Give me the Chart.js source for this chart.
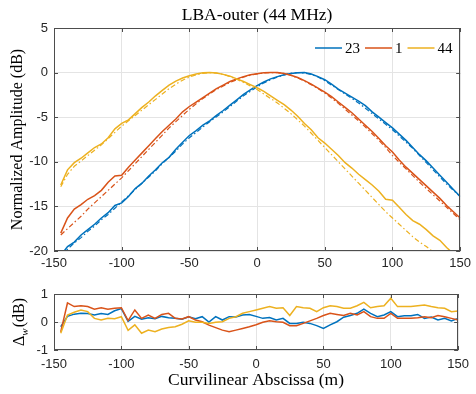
<!DOCTYPE html>
<html>
<head>
<meta charset="utf-8">
<script src="https://cdn.jsdelivr.net/npm/chart.js@4.4.1/dist/chart.umd.min.js"></script>
<style>
  html, body { margin: 0; padding: 0; background: #fff; }
  #wrap { position: relative; width: 476px; height: 394px; }
  #topWrap { position: absolute; left: 0; top: 0; width: 476px; height: 272px; }
  #botWrap { position: absolute; left: 0; top: 272px; width: 476px; height: 122px; }
</style>
</head>
<body>
<div id="wrap">
  <div id="topWrap"><canvas id="ampChart"></canvas></div>
  <div id="botWrap"><canvas id="diffChart"></canvas></div>
</div>
<script>
// Abscisse curviligne (m)
const positions = [-145, -140, -135, -130, -125, -120, -115, -110, -105, -100,
  -95, -90, -85, -80, -75, -70, -65, -60, -55, -50,
  -45, -40, -35, -30, -25, -20, -15, -10, -5, 0,
  5, 10, 15, 20, 25, 30, 35, 40, 45, 50,
  55, 60, 65, 70, 75, 80, 85, 90, 95, 100,
  105, 110, 115, 120, 125, 130, 135, 140, 145, 150];

const seriesNames = ['23', '1', '44'];

// Amplitude mesurée (dB) - traits pleins
const meas23 = [-20.5, -19.5, -19.0, -18.2, -17.6, -17.0, -16.3, -15.7, -14.9, -14.6,
  -13.9, -13.0, -12.4, -11.6, -10.9, -10.1, -9.5, -8.6, -7.8, -7.05,
  -6.5, -5.9, -5.4, -4.8, -4.25, -3.65, -3.05, -2.45, -1.95, -1.45,
  -1.05, -0.7, -0.45, -0.25, -0.1, -0.02, 0, -0.15, -0.45, -0.8,
  -1.3, -1.85, -2.3, -2.75, -3.2, -3.7, -4.4, -5.0, -5.6, -6.2,
  -6.9, -7.6, -8.4, -9.2, -9.9, -10.7, -11.5, -12.3, -13.1, -13.9];
const meas1 = [-18.0, -16.3, -15.3, -14.8, -14.2, -13.8, -13.2, -12.3, -11.6, -11.5,
  -10.6, -9.8, -9.0, -8.2, -7.4, -6.6, -5.9, -5.2, -4.4, -3.8,
  -3.3, -2.8, -2.3, -1.8, -1.4, -1.0, -0.7, -0.45, -0.25, -0.12,
  -0.03, 0, 0, -0.1, -0.3, -0.55, -0.9, -1.3, -1.75, -2.2,
  -2.7, -3.3, -3.9, -4.5, -5.2, -5.9, -6.6, -7.4, -8.2, -8.9,
  -9.8, -10.6, -11.3, -12.0, -12.7, -13.4, -14.1, -14.9, -15.6, -16.3];
const meas44 = [-12.6, -10.9, -10.1, -9.6, -9.0, -8.4, -8.0, -7.3, -6.3, -5.7,
  -5.3, -4.6, -3.9, -3.3, -2.6, -2.0, -1.4, -0.95, -0.6, -0.35,
  -0.15, -0.03, 0, -0.05, -0.2, -0.4, -0.7, -1.0, -1.35, -1.7,
  -2.1, -2.6, -3.1, -3.6, -4.2, -4.9, -5.7, -6.4, -7.3, -7.9,
  -8.6, -9.3, -10.1, -10.7, -11.4, -12.0, -12.6, -13.3, -14.2, -14.3,
  -15.1, -15.9, -16.6, -17.0, -17.6, -18.3, -18.8, -19.6, -20.3, -21.0];

// Modèle (dB) - traits mixtes
const model23 = [-20.4, -19.8, -19.1, -18.5, -17.8, -17.2, -16.5, -15.9, -15.2, -14.5,
  -13.8, -13.1, -12.4, -11.7, -11.0, -10.2, -9.5, -8.8, -8.0, -7.3,
  -6.7, -6.1, -5.5, -4.95, -4.4, -3.8, -3.2, -2.6, -2.1, -1.6,
  -1.15, -0.8, -0.5, -0.25, -0.08, 0, -0.05, -0.2, -0.5, -0.9,
  -1.4, -1.9, -2.4, -2.9, -3.4, -4.0, -4.6, -5.2, -5.8, -6.4,
  -7.1, -7.8, -8.5, -9.3, -10.1, -10.9, -11.7, -12.5, -13.2, -13.9];
const model1 = [-18.2, -17.5, -16.8, -16.1, -15.3, -14.6, -13.9, -13.2, -12.5, -11.8,
  -11.0, -10.2, -9.4, -8.6, -7.8, -7.0, -6.2, -5.5, -4.8, -4.1,
  -3.5, -2.9, -2.4, -1.9, -1.5, -1.1, -0.8, -0.5, -0.3, -0.15,
  -0.05, 0, 0, -0.1, -0.3, -0.6, -0.95, -1.35, -1.8, -2.3,
  -2.85, -3.45, -4.1, -4.75, -5.4, -6.1, -6.85, -7.6, -8.4, -9.3,
  -10.05, -10.8, -11.55, -12.3, -13.0, -13.7, -14.4, -15.1, -15.8, -16.5];
const model44 = [-12.8, -11.4, -10.5, -9.9, -9.3, -8.7, -8.1, -7.4, -6.7, -6.0,
  -5.4, -4.8, -4.2, -3.6, -3.0, -2.4, -1.8, -1.3, -0.85, -0.5,
  -0.25, -0.08, 0, -0.05, -0.2, -0.45, -0.75, -1.1, -1.5, -1.9,
  -2.4, -2.9, -3.4, -4.0, -4.6, -5.3, -6.0, -6.8, -7.6, -8.4,
  -9.2, -10.0, -10.8, -11.6, -12.4, -13.2, -14.0, -14.8, -15.6, -16.3,
  -17.0, -17.7, -18.4, -19.0, -19.5, -20.1, -20.7, -21.3, -21.9, -22.5];

// Écart pondéré Delta_w (dB)
const delta23 = [-0.17, 0.2, 0.28, 0.31, 0.3, 0.25, 0.3, 0.27, 0.4, 0.48,
  0.02, 0.2, 0.1, 0.15, 0.12, 0.2, 0.15, 0.13, 0.1, 0.19,
  0.12, 0.19, 0.0, 0.19, 0.07, 0.19, 0.18, 0.25, 0.27, 0.2,
  0.13, 0.16, 0.07, 0.13, -0.05, -0.05, -0.01, -0.05, -0.13, -0.23,
  -0.1, 0.01, 0.17, 0.23, 0.31, 0.46, 0.31, 0.19, 0.25, 0.37,
  0.19, 0.22, 0.22, 0.27, 0.13, 0.18, 0.07, 0.13, 0.04, 0.13];
const delta1 = [-0.35, 0.68, 0.55, 0.58, 0.55, 0.46, 0.51, 0.46, 0.49, 0.51,
  0.05, 0.43, 0.13, 0.25, 0.13, 0.27, 0.31, 0.13, 0.11, 0.19,
  0.07, 0.01, -0.11, -0.2, -0.29, -0.35, -0.29, -0.23, -0.17, -0.1,
  -0.01, 0.04, 0.01, -0.01, -0.13, -0.13, -0.05, 0.04, 0.13, 0.23,
  0.31, 0.27, 0.23, 0.31, 0.25, 0.37, 0.19, 0.13, 0.13, 0.31,
  0.13, 0.13, 0.13, 0.15, 0.19, 0.15, 0.23, 0.19, 0.13, 0.07];
const delta44 = [-0.4, 0.25, 0.35, 0.43, 0.37, 0.13, 0.07, 0.13, 0.12, 0.19,
  -0.3, -0.1, -0.4, -0.29, -0.35, -0.25, -0.2, -0.17, -0.08, 0.04,
  -0.01, -0.01, -0.05, -0.01, 0.01, 0.13, 0.19, 0.31, 0.37, 0.43,
  0.49, 0.55, 0.49, 0.51, 0.23, 0.55, 0.51, 0.49, 0.37, 0.51,
  0.58, 0.55, 0.49, 0.49, 0.58, 0.7, 0.51, 0.55, 0.58, 0.85,
  0.55, 0.55, 0.55, 0.58, 0.61, 0.55, 0.51, 0.49, 0.37, 0.39];

const xTicks = [-150, -100, -50, 0, 50, 100, 150];
const ampTicks = [-20, -15, -10, -5, 0, 5];
const deltaTicks = [-1, 0, 1];

const colors = ['#0072BD', '#D95319', '#EDB120'];
const tickFont = { family: "'Liberation Sans', Arial, sans-serif", size: 13 };
const serif = "'Liberation Serif', 'DejaVu Serif', serif";

function toPoints(values) {
    return positions.map((x, i) => ({ x: x, y: values[i] }));
}

// Cadre + graduations vers l'intérieur (style MATLAB)
const boxPlugin = {
    id: 'box',
    afterDatasetsDraw(chart) {
        const ctx = chart.ctx;
        const a = chart.chartArea;
        ctx.save();
        ctx.strokeStyle = '#4d4d4d';
        ctx.lineWidth = 1;
        ctx.strokeRect(Math.round(a.left) + 0.5, Math.round(a.top) + 0.5,
            Math.round(a.right - a.left) - 1, Math.round(a.bottom - a.top) - 1);
        ctx.beginPath();
        chart.scales.x.ticks.forEach(t => {
            const px = Math.round(chart.scales.x.getPixelForValue(t.value)) + 0.5;
            ctx.moveTo(px, a.bottom); ctx.lineTo(px, a.bottom - 4);
            ctx.moveTo(px, a.top); ctx.lineTo(px, a.top + 4);
        });
        chart.scales.y.ticks.forEach(t => {
            const py = Math.round(chart.scales.y.getPixelForValue(t.value)) + 0.5;
            ctx.moveTo(a.left, py); ctx.lineTo(a.left + 4, py);
            ctx.moveTo(a.right, py); ctx.lineTo(a.right - 4, py);
        });
        ctx.stroke();
        ctx.restore();
    }
};

// Titre centré sur la zone du graphique + légende interne
const titleLegendPlugin = {
    id: 'titleLegend',
    afterDraw(chart) {
        const ctx = chart.ctx;
        const a = chart.chartArea;
        ctx.save();
        ctx.fillStyle = '#000';
        ctx.font = '17.5px ' + serif;
        ctx.textAlign = 'center';
        ctx.textBaseline = 'middle';
        ctx.fillText('LBA-outer (44 MHz)', (a.left + a.right) / 2, 15);

        // légende
        ctx.font = '15px ' + serif;
        ctx.textAlign = 'left';
        let x = 315;
        const y = 48;
        seriesNames.forEach((name, i) => {
            ctx.strokeStyle = colors[i];
            ctx.lineWidth = 1.5;
            ctx.beginPath();
            ctx.moveTo(x, y); ctx.lineTo(x + 27, y);
            ctx.stroke();
            x += 30;
            ctx.fillStyle = '#000';
            ctx.fillText(name, x, y + 1);
            x += ctx.measureText(name).width + 5;
        });
        ctx.restore();
    }
};

// Libellé vertical "Δw (dB)" avec indice
const deltaLabelPlugin = {
    id: 'deltaLabel',
    afterDraw(chart) {
        const ctx = chart.ctx;
        const a = chart.chartArea;
        ctx.save();
        ctx.translate(20, (a.top + a.bottom) / 2);
        ctx.rotate(-Math.PI / 2);
        ctx.fillStyle = '#000';
        ctx.textBaseline = 'middle';
        const big = '16px ' + serif;
        const small = 'italic 11px ' + serif;
        ctx.font = big; const w1 = ctx.measureText('Δ').width;
        ctx.font = small; const w2 = ctx.measureText('w').width;
        ctx.font = big; const w3 = ctx.measureText('(dB)').width;
        let x = -(w1 + w2 + w3 + 1) / 2;
        ctx.font = big; ctx.fillText('Δ', x, 0); x += w1;
        ctx.font = small; ctx.fillText('w', x, 5); x += w2 + 1;
        ctx.font = big; ctx.fillText('(dB)', x, 0);
        ctx.restore();
    }
};

function gridOpts() {
    return { color: '#e4e4e4', drawTicks: false, lineWidth: 1 };
}

// Graphique du haut
const ampDatasets = [];
[meas23, meas1, meas44].forEach((vals, i) => {
    ampDatasets.push({
        label: seriesNames[i],
        data: toPoints(vals),
        borderColor: colors[i],
        borderWidth: 1.5,
        pointRadius: 0,
        tension: 0,
        order: 6 - 2 * i
    });
});
[model23, model1, model44].forEach((vals, i) => {
    ampDatasets.push({
        label: seriesNames[i] + ' modèle',
        data: toPoints(vals),
        borderColor: colors[i],
        borderWidth: 1.2,
        borderDash: [5, 2.5, 1.5, 2.5],
        pointRadius: 0,
        tension: 0,
        order: 5 - 2 * i
    });
});

new Chart(document.getElementById('ampChart'), {
    type: 'line',
    data: { datasets: ampDatasets },
    options: {
        responsive: true,
        maintainAspectRatio: false,
        animation: false,
        layout: { padding: { top: 28, right: 11, left: 0, bottom: 0 } },
        plugins: { legend: { display: false }, tooltip: { enabled: false } },
        scales: {
            x: {
                type: 'linear', min: -150, max: 150,
                afterFit: s => { s.height = 21; },
                afterBuildTicks: s => { s.ticks = xTicks.map(v => ({ value: v })); },
                grid: gridOpts(), border: { display: false },
                ticks: { font: tickFont, color: '#262626', padding: 5, maxRotation: 0 }
            },
            y: {
                type: 'linear', min: -20, max: 5,
                afterFit: s => { s.width = 54; },
                afterBuildTicks: s => { s.ticks = ampTicks.map(v => ({ value: v })); },
                grid: gridOpts(), border: { display: false },
                ticks: { font: tickFont, color: '#262626', padding: 6 },
                title: {
                    display: true, text: 'Normalized Amplitude (dB)', color: '#000',
                    font: { family: serif, size: 16 }, padding: { top: 8, bottom: 0 }
                }
            }
        }
    },
    plugins: [boxPlugin, titleLegendPlugin]
});

// Graphique du bas
new Chart(document.getElementById('diffChart'), {
    type: 'line',
    data: {
        datasets: [delta23, delta1, delta44].map((vals, i) => ({
            label: seriesNames[i],
            data: toPoints(vals),
            borderColor: colors[i],
            borderWidth: 1.5,
            pointRadius: 0,
            tension: 0,
            order: 3 - i
        }))
    },
    options: {
        responsive: true,
        maintainAspectRatio: false,
        animation: false,
        layout: { padding: { top: 22, right: 11, left: 0, bottom: 0 } },
        plugins: { legend: { display: false }, tooltip: { enabled: false } },
        scales: {
            x: {
                type: 'linear', min: -150, max: 150,
                afterFit: s => { s.height = 44; },
                afterBuildTicks: s => { s.ticks = xTicks.map(v => ({ value: v })); },
                grid: gridOpts(), border: { display: false },
                ticks: { font: tickFont, color: '#262626', padding: 7, maxRotation: 0 },
                title: {
                    display: true, text: 'Curvilinear Abscissa (m)', color: '#000',
                    font: { family: serif, size: 17.5 }, padding: { top: 0, bottom: 3 }
                }
            },
            y: {
                type: 'linear', min: -1, max: 1,
                afterFit: s => { s.width = 54; },
                afterBuildTicks: s => { s.ticks = deltaTicks.map(v => ({ value: v })); },
                grid: gridOpts(), border: { display: false },
                ticks: { font: tickFont, color: '#262626', padding: 6 }
            }
        }
    },
    plugins: [boxPlugin, deltaLabelPlugin]
});
</script>
</body>
</html>
